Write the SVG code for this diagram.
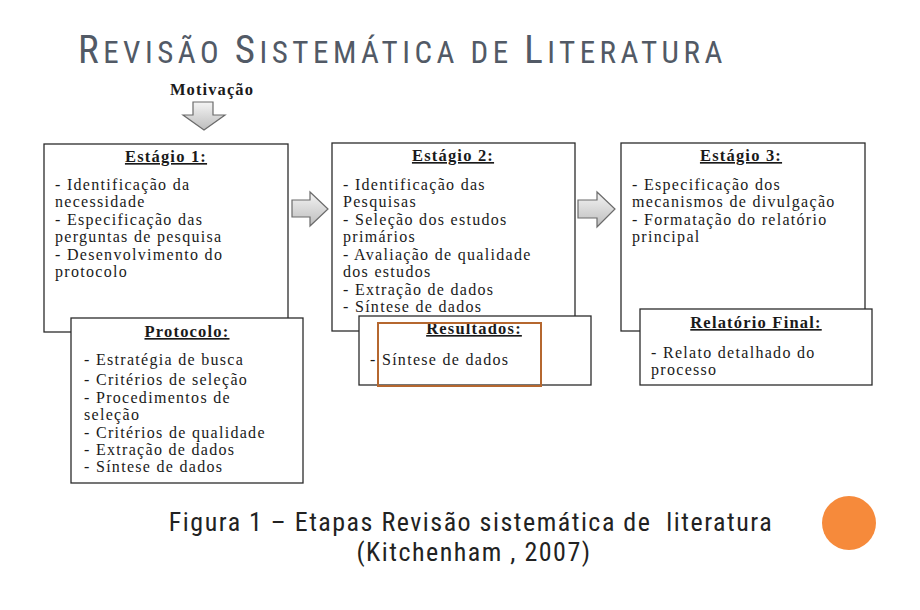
<svg xmlns="http://www.w3.org/2000/svg" width="920" height="610" viewBox="0 0 920 610">
<style>
.box{fill:#fff;stroke:#2b2b2b;stroke-width:1.3}
.t{font-family:"Liberation Serif","Times New Roman",serif;font-size:16px;fill:#1a1a1a;letter-spacing:1.3px}
.h{font-family:"Liberation Serif","Times New Roman",serif;font-size:16.5px;font-weight:bold;fill:#1a1a1a;text-anchor:middle;text-decoration:underline;letter-spacing:1.2px}
.arr{fill:url(#g);stroke:#6b6b6b;stroke-width:1.2;stroke-linejoin:miter}
.title{font-family:"Liberation Sans Narrow","Roboto Condensed","Liberation Sans",sans-serif;fill:#525a66;letter-spacing:4.5px}
.cap{font-family:"Liberation Sans Narrow","Roboto Condensed","Liberation Sans",sans-serif;font-size:26px;fill:#222;letter-spacing:1.5px;white-space:pre}
</style>
<defs>
<linearGradient id="g" x1="0" y1="0" x2="0" y2="1">
<stop offset="0" stop-color="#f4f4f4"/>
<stop offset="1" stop-color="#bdbdbd"/>
</linearGradient>
</defs>
<rect width="920" height="610" fill="#fff"/>
<g id="title">
<text class="title" x="78" y="63"><tspan font-size="39">R</tspan><tspan font-size="31">EVISÃO </tspan><tspan font-size="39">S</tspan><tspan font-size="31">ISTEMÁTICA DE </tspan><tspan font-size="39">L</tspan><tspan font-size="31">ITERATURA</tspan></text>
</g>
<g id="motivacao">
<text x="212" y="95" text-anchor="middle" font-family="Liberation Serif,serif" font-weight="bold" font-size="16.5" letter-spacing="1.1" fill="#1a1a1a">Motivação</text>
</g>
<g id="connectors">
<polygon class="arr" points="193,102 213,102 213,115 225,115 204,130 183,115 193,115"/>
<polygon class="arr" points="292,200 310,200 310,192 328,209 310,226 310,217 292,217"/>
<polygon class="arr" points="578,200 597,200 597,192 615,209 597,227 597,218 578,218"/>
</g>
<g id="estagio1">
<rect class="box" x="44" y="144" width="244" height="188"/>
<text class="h" x="166" y="162">Estágio 1:</text>
<text class="t" x="55" y="190">- Identificação da</text>
<text class="t" x="55" y="207">necessidade</text>
<text class="t" x="55" y="225">- Especificação das</text>
<text class="t" x="55" y="242">perguntas de pesquisa</text>
<text class="t" x="55" y="260">- Desenvolvimento do</text>
<text class="t" x="55" y="277">protocolo</text>
</g>
<g id="protocolo">
<rect class="box" x="71" y="318" width="232" height="165"/>
<text class="h" x="187" y="337">Protocolo:</text>
<text class="t" x="84" y="365">- Estratégia de busca</text>
<text class="t" x="84" y="385">- Critérios de seleção</text>
<text class="t" x="84" y="403">- Procedimentos de</text>
<text class="t" x="84" y="420">seleção</text>
<text class="t" x="84" y="438">- Critérios de qualidade</text>
<text class="t" x="84" y="455">- Extração de dados</text>
<text class="t" x="84" y="472">- Síntese de dados</text>
</g>
<g id="estagio2">
<rect class="box" x="332" y="143" width="243" height="188"/>
<text class="h" x="453" y="161">Estágio 2:</text>
<text class="t" x="343" y="190">- Identificação das</text>
<text class="t" x="343" y="207">Pesquisas</text>
<text class="t" x="343" y="225">- Seleção dos estudos</text>
<text class="t" x="343" y="242">primários</text>
<text class="t" x="343" y="260">- Avaliação de qualidade</text>
<text class="t" x="343" y="277">dos estudos</text>
<text class="t" x="343" y="295">- Extração de dados</text>
<text class="t" x="343" y="312">- Síntese de dados</text>
</g>
<g id="resultados">
<rect class="box" x="359" y="316" width="232" height="69"/>
<text class="h" x="474" y="334">Resultados:</text>
<text class="t" x="370" y="365">- Síntese de dados</text>
<rect x="378" y="323" width="163" height="63" fill="none" stroke="#b5672f" stroke-width="2"/>
</g>
<g id="estagio3">
<rect class="box" x="621" y="143" width="244" height="188"/>
<text class="h" x="741" y="161">Estágio 3:</text>
<text class="t" x="632" y="190">- Especificação dos</text>
<text class="t" x="632" y="207">mecanismos de divulgação</text>
<text class="t" x="632" y="225">- Formatação do relatório</text>
<text class="t" x="632" y="242">principal</text>
</g>
<g id="relatorio">
<rect class="box" x="640" y="309" width="232" height="76"/>
<text class="h" x="756" y="328">Relatório Final:</text>
<text class="t" x="651" y="358">- Relato detalhado do</text>
<text class="t" x="651" y="375">processo</text>
</g>
<g id="caption">
<text class="cap" x="471" y="531" text-anchor="middle" xml:space="preserve">Figura 1 – Etapas Revisão sistemática de  literatura</text>
<text class="cap" x="474" y="561" text-anchor="middle">(Kitchenham , 2007)</text>
</g>
<circle cx="849" cy="523" r="27" fill="#f68a3b"/>
</svg>
